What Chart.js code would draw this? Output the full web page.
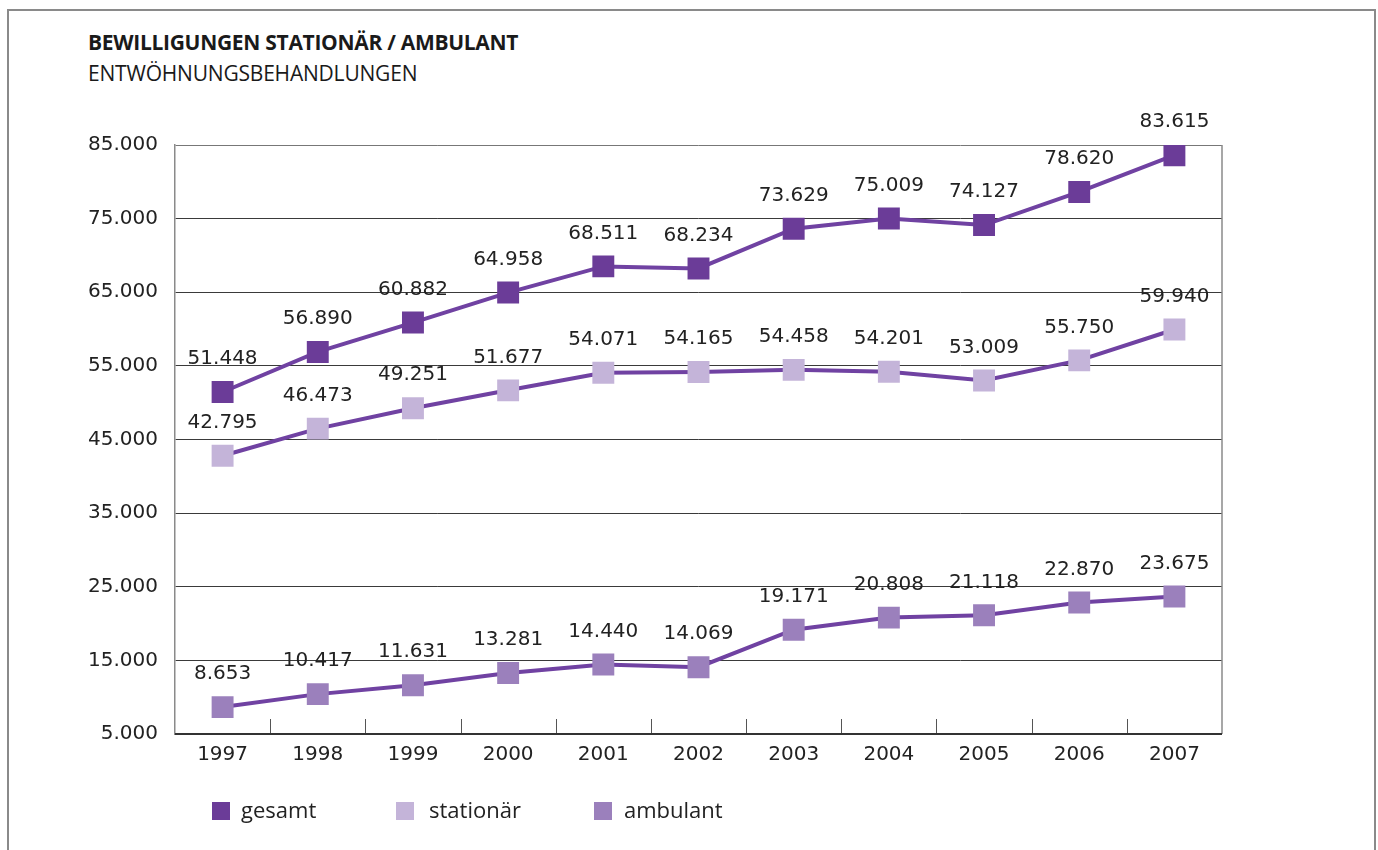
<!DOCTYPE html>
<html>
<head>
<meta charset="utf-8">
<script src="https://cdn.jsdelivr.net/npm/chart.js@4.4.1/dist/chart.umd.min.js"></script>
<style>
  html, body { margin: 0; padding: 0; background: #fff; }
  #wrap { position: relative; width: 1378px; height: 850px; overflow: hidden; }
  #frame { position: absolute; left: 7px; top: 9px; width: 1369px; height: 900px;
           border: 2px solid #8a8a8a; box-sizing: border-box; }
  #title { position: absolute; left: 88px; top: 28px; font-family: "Open Sans", sans-serif;
           font-weight: 700; font-size: 21px; color: #1a1a1a; letter-spacing: -0.3px; white-space: nowrap; }
  #subtitle { position: absolute; left: 88px; top: 59px; font-family: "Open Sans", sans-serif;
           font-size: 21px; color: #1a1a1a; letter-spacing: -0.2px; white-space: nowrap; }
  #legend { position: absolute; top: 800px; left: 0; font-family: "Open Sans", sans-serif;
            font-size: 22px; color: #222; }
  .item { position: absolute; white-space: nowrap; }
  .sw { position: absolute; top: 2px; width: 18px; height: 18px; }
  .lt { position: absolute; top: -6px; }
  canvas { position: absolute; left: 0; top: 0; }
</style>
</head>
<body>
<div id="wrap">
  <div id="frame"></div>
  <div id="title">BEWILLIGUNGEN STATIONÄR / AMBULANT</div>
  <div id="subtitle">ENTWÖHNUNGSBEHANDLUNGEN</div>
  <canvas id="c" width="1378" height="850"></canvas>
  <div id="legend"></div>
</div>
<script>
const years = ["1997","1998","1999","2000","2001","2002","2003","2004","2005","2006","2007"];
const gesamt    = [51448, 56890, 60882, 64958, 68511, 68234, 73629, 75009, 74127, 78620, 83615];
const stationaer = [42795, 46473, 49251, 51677, 54071, 54165, 54458, 54201, 53009, 55750, 59940];
const ambulant  = [8653, 10417, 11631, 13281, 14440, 14069, 19171, 20808, 21118, 22870, 23675];
const seriesNames = ["gesamt", "stationär", "ambulant"];
const yMin = 5000, yMax = 85000, yStep = 10000;

const lineColor = "#7042a2";
const markerColors = ["#6b3c98", "#c4b4d9", "#9b80bc"];

function fmt(v) {
  const s = Math.round(v).toString();
  return s.replace(/\B(?=(\d{3})+(?!\d))/g, ".");
}

const frameLines = {
  id: "frameLines",
  beforeDatasetsDraw(chart) {
    const { ctx, chartArea: a, scales: { x } } = chart;
    ctx.save();
    ctx.strokeStyle = "#555";
    ctx.lineWidth = 1;
    const half = (x.getPixelForValue(1) - x.getPixelForValue(0)) / 2;
    for (let i = 1; i < years.length; i++) {
      const px = Math.round(x.getPixelForValue(i) - half) + 0.5;
      ctx.beginPath();
      ctx.moveTo(px, a.bottom);
      ctx.lineTo(px, a.bottom - 15);
      ctx.stroke();
    }
    ctx.strokeStyle = "#8a8a8a";
    ctx.lineWidth = 1.5;
    ctx.beginPath();
    ctx.moveTo(a.right, a.top);
    ctx.lineTo(a.right, a.bottom);
    ctx.stroke();
    ctx.strokeStyle = "#333";
    ctx.lineWidth = 2;
    ctx.beginPath();
    ctx.moveTo(a.left, a.bottom);
    ctx.lineTo(a.right, a.bottom);
    ctx.stroke();
    ctx.restore();
  }
};

const valueLabels = {
  id: "valueLabels",
  afterDatasetsDraw(chart) {
    const { ctx } = chart;
    ctx.save();
    ctx.font = '20px "DejaVu Sans"';
    ctx.fillStyle = "#222";
    ctx.textAlign = "center";
    ctx.textBaseline = "middle";
    chart.data.datasets.forEach((ds, di) => {
      const meta = chart.getDatasetMeta(di);
      meta.data.forEach((pt, i) => {
        ctx.fillText(fmt(ds.data[i]), pt.x, pt.y - 33);
      });
    });
    ctx.restore();
  }
};

const mkDs = (label, data, idx) => ({
  label, data,
  borderColor: lineColor,
  borderWidth: 4,
  pointStyle: "rect",
  pointRadius: 15.5,
  pointHoverRadius: 15.5,
  pointBackgroundColor: markerColors[idx],
  pointBorderWidth: 0,
  pointBorderColor: markerColors[idx],
  tension: 0,
  fill: false
});

new Chart(document.getElementById("c"), {
  type: "line",
  data: {
    labels: years,
    datasets: [
      mkDs(seriesNames[0], gesamt, 0),
      mkDs(seriesNames[1], stationaer, 1),
      mkDs(seriesNames[2], ambulant, 2)
    ]
  },
  options: {
    responsive: false,
    animation: false,
    events: [],
    layout: { padding: { left: 0, right: 156, top: 145, bottom: 0 } },
    plugins: { legend: { display: false }, tooltip: { enabled: false }, title: { display: false } },
    scales: {
      x: {
        type: "category",
        offset: true,
        afterFit(s) { s.height = 116; },
        grid: { display: false, drawTicks: false },
        border: { display: false },
        ticks: { color: "#222", font: { family: "DejaVu Sans", size: 20 }, padding: 9, maxRotation: 0 }
      },
      y: {
        min: yMin, max: yMax,
        afterFit(s) { s.width = 175; },
        afterBuildTicks(s) {
          const t = [];
          for (let v = yMin; v <= yMax; v += yStep) t.push({ value: v });
          s.ticks = t;
        },
        grid: {
          color: (c) => (c.tick && c.tick.value === yMax) ? "#777" : "#3a3a3a",
          lineWidth: 1,
          drawTicks: false
        },
        border: { display: true, color: "#8a8a8a", width: 1.5 },
        ticks: {
          color: "#222", font: { family: "DejaVu Sans", size: 20 }, padding: 17,
          callback: (v) => fmt(v)
        }
      }
    }
  },
  plugins: [frameLines, valueLabels]
});

const legend = document.getElementById("legend");
const legendX = [212, 396, 594];
const legendTextX = [241, 429, 624];
seriesNames.forEach((n, i) => {
  const it = document.createElement("div");
  it.className = "item";
  it.style.left = legendX[i] + "px";
  it.innerHTML = '<span class="sw" style="left:0;background:' + markerColors[i] + '"></span>' +
                 '<span class="lt" style="left:' + (legendTextX[i] - legendX[i]) + 'px">' + n + '</span>';
  legend.appendChild(it);
});
</script>
</body>
</html>
